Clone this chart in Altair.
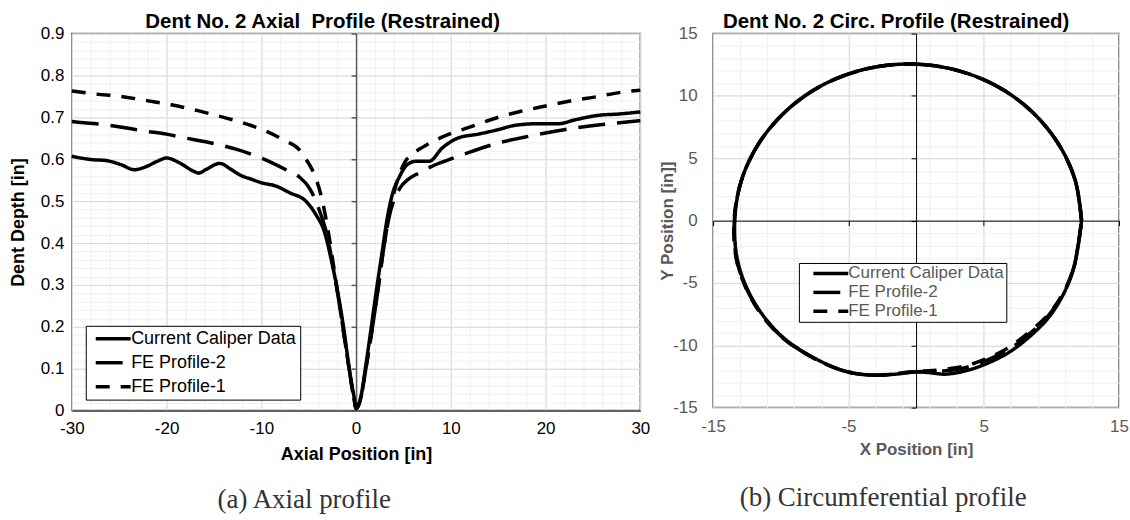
import altair as alt
import pandas as pd

FONT = "Liberation Sans"

# ---------------- axial profile: dent depth vs axial position ----------------
caliper_x = [-30, -27.8, -26.4, -24.8, -23.4, -22.1, -21.0, -20.0, -18.6, -17.2, -16.6, -15.8,
             -14.4, -13.2, -12.3, -11.0, -10.0, -8.45, -7.0, -5.3, -4.24, -3.37, -2.66, -1.96,
             -1.26, -0.74, -0.21, 0.0, 0.5, 1.0, 1.55, 2.14, 2.77, 3.3, 3.83, 4.53, 5.4, 6.28,
             7.7, 9.1, 10.8, 12.9, 15.05, 16.8, 19.3, 21.4, 23.1, 25.6, 27.7, 30]
caliper_d = [0.607, 0.599, 0.597, 0.587, 0.575, 0.583, 0.595, 0.603, 0.591, 0.572, 0.567, 0.576,
             0.590, 0.576, 0.563, 0.552, 0.544, 0.536, 0.520, 0.500, 0.468, 0.429, 0.365, 0.286,
             0.190, 0.103, 0.032, 0.005, 0.032, 0.103, 0.190, 0.286, 0.381, 0.460, 0.516, 0.556,
             0.587, 0.595, 0.595, 0.627, 0.651, 0.660, 0.671, 0.681, 0.685, 0.685, 0.694, 0.705,
             0.708, 0.713]

fe2_x = [-30, -28.1, -26.7, -23.7, -22.5, -20.0, -18.3, -15.3, -12.5, -10.0, -7.4, -6.0, -4.95,
         -3.9, -3.0, -2.4, -1.8, -1.2, -0.7, -0.2, 0.0, 0.5, 1.0, 1.6, 2.2, 2.8, 3.47, 4.6, 5.5,
         6.45, 8.0, 9.8, 12.0, 15.05, 18.5, 22.1, 26.0, 30]
fe2_d = [0.690, 0.686, 0.683, 0.673, 0.668, 0.660, 0.652, 0.639, 0.623, 0.603, 0.575, 0.558, 0.532,
         0.480, 0.413, 0.340, 0.260, 0.170, 0.095, 0.025, 0.005, 0.030, 0.095, 0.180, 0.270, 0.370,
         0.460, 0.530, 0.552, 0.565, 0.583, 0.599, 0.617, 0.639, 0.656, 0.671, 0.683, 0.692]

fe1_x = [-30, -27.6, -24.8, -22.1, -19.5, -16.7, -15.3, -13.0, -11.0, -9.5, -7.4, -6.0, -5.65,
         -5.0, -4.4, -3.55, -3.0, -2.4, -1.8, -1.2, -0.7, -0.2, 0.0, 0.5, 1.0, 1.6, 2.2, 2.8, 3.4,
         4.0, 4.6, 5.2, 6.0, 7.05, 9.5, 12.3, 14.7, 17.3, 20.0, 22.8, 25.3, 28.0, 30]
fe1_d = [0.763, 0.756, 0.750, 0.740, 0.730, 0.716, 0.708, 0.694, 0.680, 0.667, 0.643, 0.623, 0.611,
         0.590, 0.564, 0.500, 0.436, 0.350, 0.260, 0.170, 0.095, 0.025, 0.005, 0.030, 0.095, 0.180,
         0.270, 0.370, 0.455, 0.520, 0.565, 0.595, 0.613, 0.629, 0.657, 0.679, 0.698, 0.714, 0.727,
         0.740, 0.749, 0.760, 0.765]

# ---------------- circumferential profile: cross-section outline ----------------
circ_cal_x = [12.23, 11.75, 10.43, 8.40, 5.79, 2.75, -0.50, -3.76, -6.81, -9.45, -11.52, -12.88,
              -13.40, -13.15, -11.93, -9.85, -7.03, -4.93, -3.00, -1.53, -0.05, 0.93, 2.16, 3.63,
              5.11, 6.83, 8.30, 9.78, 10.88, 11.62, 11.99, 12.23]
circ_cal_y = [0.00, 3.28, 6.31, 8.90, 10.89, 12.13, 12.56, 12.15, 10.93, 8.95, 6.36, 3.32,
              0.00, -3.39, -6.60, -9.35, -11.30, -12.17, -12.40, -12.32, -12.14, -12.19, -12.32,
              -12.06, -11.52, -10.59, -9.39, -7.79, -5.92, -3.92, -1.92, 0.00]

circ_fe2_x = [12.23, 11.75, 10.43, 8.40, 5.79, 2.75, -0.50, -3.76, -6.81, -9.45, -11.52, -12.88,
              -13.43, -13.20, -11.97, -9.88, -7.05, -4.93, -3.00, -1.53, -0.05, 0.93, 2.16, 3.63,
              5.11, 6.83, 8.30, 9.78, 10.88, 11.62, 11.99, 12.23]
circ_fe2_y = [0.00, 3.28, 6.31, 8.90, 10.89, 12.13, 12.56, 12.15, 10.93, 8.95, 6.36, 3.32,
              0.00, -3.40, -6.62, -9.37, -11.31, -12.17, -12.40, -12.30, -12.12, -12.10, -12.05,
              -11.80, -11.25, -10.35, -9.15, -7.62, -5.85, -3.90, -1.92, 0.00]

circ_fe1_x = [12.23, 11.75, 10.43, 8.40, 5.79, 2.75, -0.50, -3.76, -6.81, -9.45, -11.52, -12.88,
              -13.45, -13.22, -11.98, -9.90, -7.06, -4.93, -3.00, -1.53, -0.05, 0.93, 2.16, 3.63,
              5.11, 6.83, 8.30, 9.78, 10.88, 11.62, 11.99, 12.23]
circ_fe1_y = [0.00, 3.28, 6.31, 8.90, 10.89, 12.13, 12.56, 12.15, 10.93, 8.95, 6.36, 3.32,
              0.00, -3.41, -6.63, -9.38, -11.32, -12.17, -12.40, -12.28, -12.10, -12.05, -11.92,
              -11.66, -11.12, -10.19, -8.99, -7.52, -5.80, -3.88, -1.92, 0.00]

SERIES = ["Current Caliper Data", "FE Profile-2", "FE Profile-1"]
DASHES = [[1, 0], [27, 12], [14, 11]]


def long_frame(parts):
    rows = []
    for name, xs, ys in parts:
        for i, (a, b) in enumerate(zip(xs, ys)):
            rows.append({"series": name, "x": a, "y": b, "i": i})
    return pd.DataFrame(rows)


axial = long_frame([(SERIES[0], caliper_x, caliper_d),
                    (SERIES[1], fe2_x, fe2_d),
                    (SERIES[2], fe1_x, fe1_d)])
circ = long_frame([(SERIES[0], circ_cal_x, circ_cal_y),
                   (SERIES[1], circ_fe2_x, circ_fe2_y),
                   (SERIES[2], circ_fe1_x, circ_fe1_y)])

MINOR = "#f0f0f0"
MAJOR = "#d9d9d9"
# plain hyphen for negative tick labels
HYPHEN_LABEL = "datum.value < 0 ? '-' + format(-datum.value, '~g') : format(datum.value, '~g')"


def grid_axis(orient, values, color):
    return alt.Axis(orient=orient, values=values, grid=True, gridColor=color, gridWidth=1,
                    labels=False, ticks=False, domain=False, title=None, zindex=0)


def legend(lx, ly, size, color, pad, rowpad, sym_off, lab_off):
    return alt.Legend(title=None, orient="none", legendX=lx, legendY=ly,
                      symbolType="M-3.5,0H3.5", symbolSize=100, symbolStrokeWidth=3.5,
                      symbolStrokeColor="black", symbolFillColor="transparent",
                      symbolOffset=sym_off, labelOffset=lab_off,
                      labelFont=FONT, labelFontSize=size, labelColor=color, labelLimit=400,
                      strokeColor="black", fillColor="white", padding=pad, rowPadding=rowpad)


def caption(text, dx, offset):
    return alt.TitleParams(text=text, orient="bottom", anchor="middle", frame="group", dx=dx,
                           offset=offset, font="Liberation Serif", fontSize=27,
                           fontWeight="normal", color="#333333")


# ---------------- left panel ----------------
LW, LH = 570, 378
ax_x = alt.Scale(domain=[-30, 30], nice=False, zero=False)
ax_y = alt.Scale(domain=[0, 0.9], nice=False, zero=False)
ax_x_minor = [-30 + 2 * k for k in range(31)]
ax_y_minor = [round(0.02 * k, 2) for k in range(46)]
ax_x_major = [-30, -20, -10, 0, 10, 20, 30]
ax_y_major = [round(0.1 * k, 1) for k in range(10)]

a_base = alt.Chart(axial)
a_minor = a_base.mark_point(opacity=0).encode(
    x=alt.X("x:Q", scale=ax_x, axis=grid_axis("bottom", ax_x_minor, MINOR)),
    y=alt.Y("y:Q", scale=ax_y, axis=grid_axis("left", ax_y_minor, MINOR)),
)
a_major = a_base.mark_point(opacity=0).encode(
    x=alt.X("x:Q", scale=ax_x, axis=alt.Axis(
        orient="bottom", values=ax_x_major, labelExpr=HYPHEN_LABEL, grid=True, gridColor=MAJOR,
        ticks=False, domain=True, domainColor="#404040", domainWidth=1.5,
        labelFont=FONT, labelFontSize=17, labelColor="black", labelPadding=10,
        labelFlush=False, labelOverlap=False,
        title="Axial Position [in]", titleFont=FONT, titleFontSize=18, titleFontWeight="bold",
        titleColor="black", titlePadding=9, zindex=0)),
    y=alt.Y("y:Q", scale=ax_y, axis=alt.Axis(
        orient="left", values=ax_y_major, labelExpr=HYPHEN_LABEL, grid=True, gridColor=MAJOR,
        ticks=False, domain=False, labelFont=FONT, labelFontSize=17, labelColor="black",
        labelPadding=8, labelFlush=False, labelOverlap=False,
        title="Dent Depth [in]", titleFont=FONT, titleFontSize=18, titleFontWeight="bold",
        titleColor="black", titlePadding=13, zindex=0)),
)
a_centre = a_base.mark_point(opacity=0).encode(
    x=alt.X("x:Q", scale=ax_x, axis=alt.Axis(
        orient="top", labels=False, ticks=False, domain=False, grid=False,
        title="Dent No. 2 Axial\u00a0 Profile (Restrained)", titleFont=FONT, titleFontSize=20.5,
        titleFontWeight="bold", titleColor="black", titlePadding=6, titleBaseline="alphabetic",
        titleX=251, titleAlign="center", zindex=0)),
    y=alt.Y("y:Q", scale=ax_y, axis=alt.Axis(
        orient="left", offset=-285, values=ax_y_major, labels=False, grid=False, title=None,
        domain=True, domainColor="#595959", domainWidth=1.5,
        ticks=True, tickSize=5, tickColor="#595959", tickWidth=1.5, zindex=0)),
)
a_lines = a_base.mark_line(color="black", strokeWidth=3.5, interpolate="monotone",
                           strokeCap="butt").encode(
    x=alt.X("x:Q", scale=ax_x, axis=None),
    y=alt.Y("y:Q", scale=ax_y, axis=None),
    strokeDash=alt.StrokeDash("series:N", scale=alt.Scale(domain=SERIES, range=DASHES),
                              legend=legend(14, 293, 18, "black", 4, 6, 14.5, 9)),
    order=alt.Order("i:Q"),
)
left = alt.layer(a_minor, a_major, a_centre, a_lines).resolve_axis(
    x="independent", y="independent"
).properties(width=LW, height=LH, title=caption("(a) Axial profile", -52, 24))

# ---------------- right panel ----------------
RW, RH = 407, 375
c_x = alt.Scale(domain=[-15, 15], nice=False, zero=False)
c_y = alt.Scale(domain=[-15, 15], nice=False, zero=False)
c_x_minor = [-15 + 2 * k for k in range(16)]
c_y_minor = list(range(-15, 16))
c_x_major = [-15, -5, 5, 15]
c_y_major = [-15, -10, -5, 0, 5, 10, 15]
GREY = "#595959"

c_base = alt.Chart(circ)
c_minor = c_base.mark_point(opacity=0).encode(
    x=alt.X("x:Q", scale=c_x, axis=grid_axis("bottom", c_x_minor, MINOR)),
    y=alt.Y("y:Q", scale=c_y, axis=grid_axis("left", c_y_minor, MINOR)),
)
c_major = c_base.mark_point(opacity=0).encode(
    x=alt.X("x:Q", scale=c_x, axis=alt.Axis(
        orient="bottom", values=c_x_major, labelExpr=HYPHEN_LABEL, grid=True, gridColor=MAJOR,
        ticks=False, domain=False,
        labelFont=FONT, labelFontSize=17, labelColor=GREY, labelPadding=11,
        labelFlush=False, labelOverlap=False,
        title="X Position [in]", titleFont=FONT, titleFontSize=17, titleFontWeight="bold",
        titleColor=GREY, titlePadding=7, zindex=0)),
    y=alt.Y("y:Q", scale=c_y, axis=alt.Axis(
        orient="left", values=c_y_major, labelExpr=HYPHEN_LABEL, grid=True, gridColor=MAJOR,
        ticks=False, domain=False,
        labelFont=FONT, labelFontSize=17, labelColor=GREY, labelPadding=16,
        labelFlush=False, labelOverlap=False,
        title="Y Position [in]]", titleFont=FONT, titleFontSize=17, titleFontWeight="bold",
        titleColor=GREY, titlePadding=-4, zindex=0)),
)
c_centre = c_base.mark_point(opacity=0).encode(
    x=alt.X("x:Q", scale=c_x, axis=alt.Axis(
        orient="top", labels=False, ticks=False, domain=False, grid=False,
        title="Dent No. 2 Circ. Profile (Restrained)", titleFont=FONT, titleFontSize=20.5,
        titleFontWeight="bold", titleColor="black", titlePadding=6, titleBaseline="alphabetic",
        titleX=183, titleAlign="center", zindex=0)),
    y=alt.Y("y:Q", scale=c_y, axis=alt.Axis(
        orient="left", offset=-203.5, values=c_y_major, labels=False, grid=False, title=None,
        domain=True, domainColor="black", domainWidth=1,
        ticks=True, tickSize=5, tickColor="black", tickWidth=1, zindex=0)),
)
c_lines = c_base.mark_line(color="black", strokeWidth=3.5, interpolate="catmull-rom",
                           strokeCap="butt").encode(
    x=alt.X("x:Q", scale=c_x, axis=alt.Axis(
        orient="bottom", offset=-187.5, values=c_x_major, labels=False, grid=False, title=None,
        domain=True, domainColor="black", domainWidth=1,
        ticks=True, tickSize=5, tickColor="black", tickWidth=1, zindex=0)),
    y=alt.Y("y:Q", scale=c_y, axis=None),
    strokeDash=alt.StrokeDash("series:N", scale=alt.Scale(domain=SERIES, range=DASHES),
                              legend=legend(86, 230, 17, GREY, 2, 1, 21.5, 9)),
    order=alt.Order("i:Q"),
)
right = alt.layer(c_minor, c_major, c_centre, c_lines).resolve_axis(
    x="independent", y="independent"
).properties(width=RW, height=RH,
             title=caption("(b) Circumferential profile", -33, 28))

chart = alt.hconcat(left, right, spacing=6).resolve_scale(
    strokeDash="independent"
).resolve_legend(
    strokeDash="independent"
).properties(
    padding={"left": 8, "top": 10, "right": 0, "bottom": 0},
    background="white",
).configure_view(stroke=GREY, strokeWidth=1.5)

chart.save("out.html", embed_options={"renderer": "svg", "actions": False})
